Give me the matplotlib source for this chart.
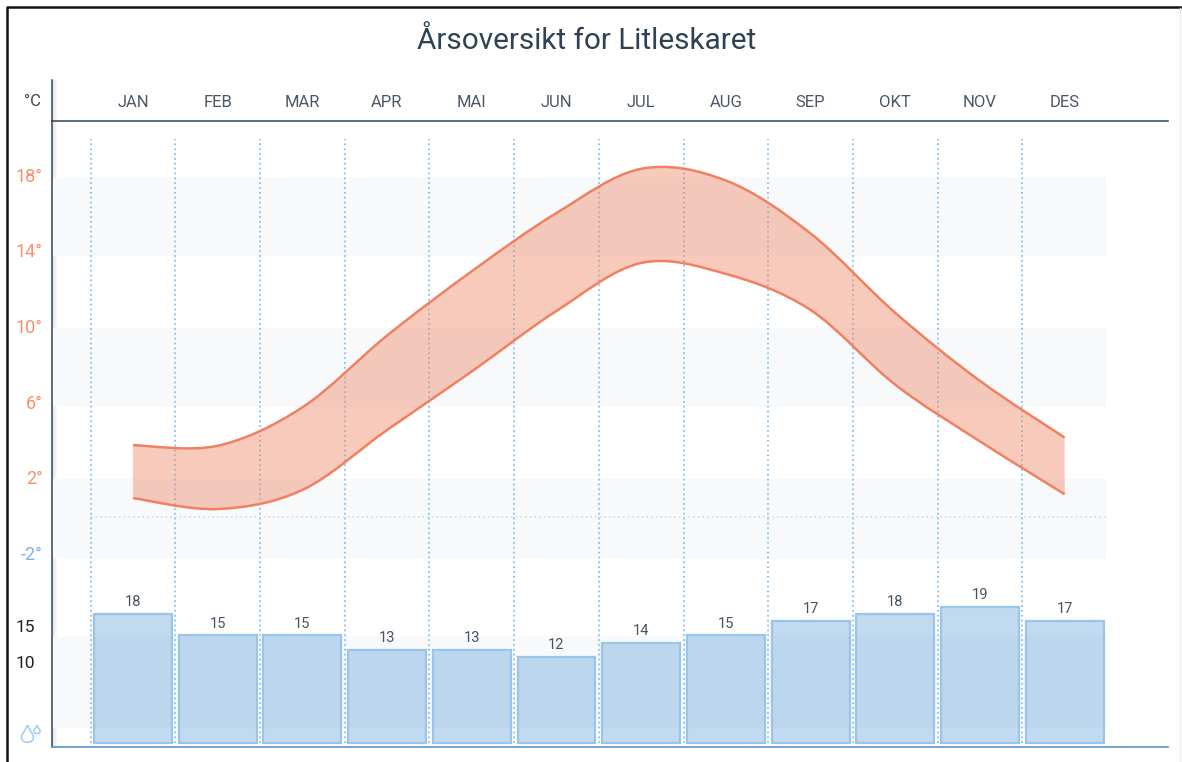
import matplotlib
matplotlib.use('Agg')
import matplotlib.pyplot as plt
from matplotlib.path import Path
from matplotlib.patches import PathPatch
from matplotlib.lines import Line2D
from matplotlib.patches import Rectangle

plt.rcParams['font.family'] = ['Roboto', 'DejaVu Sans']

months = ['JAN', 'FEB', 'MAR', 'APR', 'MAI', 'JUN', 'JUL', 'AUG', 'SEP', 'OKT', 'NOV', 'DES']
temp_high = [3.8, 3.77, 5.8, 9.6, 13.0, 16.08, 18.42, 17.8, 15.0, 10.8, 7.2, 4.2]
temp_low = [1.0, 0.42, 1.43, 4.6, 7.7, 10.9, 13.44, 12.86, 10.95, 7.0, 4.0, 1.2]
rain = [18, 15, 15, 13, 13, 12, 14, 15, 17, 18, 19, 17]
temp_ticks = [18, 14, 10, 6, 2, -2]
rain_ticks = [15, 10]
# last stripe sits behind the rain bars
temp_bands = [(13.8, 18), (5.8, 10), (-2.2, 2), (-11.16, -6.3)]

W, H = 1182, 762


def fx(px):
    return px / W


def fy(py):
    return 1 - py / H


def spline(xs, ys):
    # catmull-rom as bezier segments
    verts = [(xs[0], ys[0])]
    n = len(xs)
    for i in range(n - 1):
        a = max(i - 1, 0)
        b = min(i + 2, n - 1)
        verts.append((xs[i] + (xs[i + 1] - xs[a]) / 6, ys[i] + (ys[i + 1] - ys[a]) / 6))
        verts.append((xs[i + 1] - (xs[b] - xs[i]) / 6, ys[i + 1] - (ys[b] - ys[i]) / 6))
        verts.append((xs[i + 1], ys[i + 1]))
    return verts


fig = plt.figure(figsize=(W / 100, H / 100), dpi=100)
ax = fig.add_axes([fx(52), fy(747), fx(1168 - 52), (747 - 121) / H])
ax.set_xlim(-0.956, 12.22)
ax.set_ylim(-12.17, 20.95)
ax.patch.set_visible(False)
ax.set_zorder(2)

ax2 = ax.twinx()
ax2.set_ylim(-0.558, 86.75)
ax2.patch.set_visible(False)
ax2.set_zorder(3)

pos = list(range(12))

# stripes
for lo, hi in temp_bands:
    ax.fill_between([-0.956, 11.5], lo, hi, color='#f8f9fb', lw=0, zorder=0)

# shadow next to the left axis
for i, c in enumerate(['#e4e6e9', '#eceef0', '#f2f3f5', '#f7f8f9', '#fbfbfc']):
    fig.add_artist(Rectangle((fx(53 + i), fy(747)), 1 / W, 667 / H, color=c, lw=0, zorder=0.5))

ax.vlines([p - 0.5 for p in pos], -11.96, 20, color='#7fbdec', lw=1.25, ls=(0, (1, 1.8)), zorder=1)
ax.plot([-0.5, 11.5], [0, 0], color='#c4e0f2', lw=1.2, ls=(0, (1, 1.8)), zorder=1)

# temperature range
up = spline(pos, temp_high)
low = spline(pos, temp_low)[::-1]
verts = up + low + [up[0]]
codes = ([Path.MOVETO] + [Path.CURVE4] * (len(up) - 1) + [Path.LINETO]
         + [Path.CURVE4] * (len(low) - 1) + [Path.CLOSEPOLY])
ax.add_patch(PathPatch(Path(verts, codes), facecolor='#ee8a6b', alpha=0.45, lw=0, zorder=2))
for v in (up, low):
    c = [Path.MOVETO] + [Path.CURVE4] * (len(v) - 1)
    ax.add_patch(PathPatch(Path(v, c), fill=False, edgecolor='#ef8162', lw=1.8, zorder=3))

# rain
bars = ax2.bar(pos, rain, width=0.92, facecolor=(0.36, 0.62, 0.85, 0.38),
               edgecolor='#9ac5e8', linewidth=1.6, zorder=2)
ax2.bar_label(bars, padding=3.5, fontsize=10.5, color='#46535f')

# axes and labels
for s in ('right', 'bottom', 'top', 'left'):
    ax2.spines[s].set_visible(False)
ax.spines['right'].set_visible(False)
ax.spines['top'].set_color('#2f4254')
ax.spines['top'].set_linewidth(1.1)
ax.spines['left'].set_color('#2f4254')
ax.spines['left'].set_linewidth(1.1)
ax.spines['bottom'].set_color('#5b94d0')
ax.spines['bottom'].set_linewidth(1.2)

ax.xaxis.tick_top()
ax.set_xticks(pos)
ax.set_xticklabels(months, fontsize=12, color='#4a5866')
ax.tick_params(axis='x', length=0, pad=8)

ax.set_yticks(temp_ticks)
ax.set_yticklabels([f'{t}\u00b0' for t in temp_ticks], fontsize=13)
ax.tick_params(axis='y', length=0, pad=6.5)
for t, v in zip(ax.get_yticklabels(), temp_ticks):
    t.set_color('#7db4e6' if v < 0 else '#f78f6f')
    t.set_va('center')

ax2.yaxis.tick_left()
ax2.set_yticks(rain_ticks)
ax2.set_yticklabels([str(t) for t in rain_ticks], fontsize=12.5, color='#222222', va='bottom')
ax2.tick_params(axis='y', length=0, pad=12.5)

fig.text(fx(41), fy(102), '\u00b0C', fontsize=12, color='#3c4a58', ha='right', va='center')
fig.text(fx(587), fy(41), 'Årsoversikt for Litleskaret', fontsize=21.4, color='#2f4254',
         ha='center', va='center')

# left axis runs on above the header line
fig.add_artist(Line2D([fx(52), fx(52)], [fy(121), fy(80)], color='#2f4254', lw=1.1))

# screenshot frame
fig.add_artist(Line2D([fx(7), fx(7), fx(1182)], [0, fy(7), fy(7)], color='#111111', lw=1.8))
fig.add_artist(Line2D([fx(1180), fx(1180)], [0, fy(8)], color='#eeeeee', lw=1))


# rain drop icon
def drop(cx, top, w, h):
    verts = [(cx, top), (cx + w * 0.2, top + h * 0.35), (cx + w / 2, top + h * 0.5), (cx + w / 2, top + h * 0.7),
             (cx + w / 2, top + h * 1.05), (cx - w / 2, top + h * 1.05), (cx - w / 2, top + h * 0.7),
             (cx - w / 2, top + h * 0.5), (cx - w * 0.2, top + h * 0.35), (cx, top)]
    verts = [(fx(x), fy(y)) for x, y in verts]
    codes = [Path.MOVETO] + [Path.CURVE4] * 9
    fig.add_artist(PathPatch(Path(verts, codes), fill=False, edgecolor='#9fd0f5', lw=1.2,
                             transform=fig.transFigure))


drop(27.5, 725, 12, 18)
drop(37, 725, 6, 9)

fig.savefig('out.png', dpi=100)
